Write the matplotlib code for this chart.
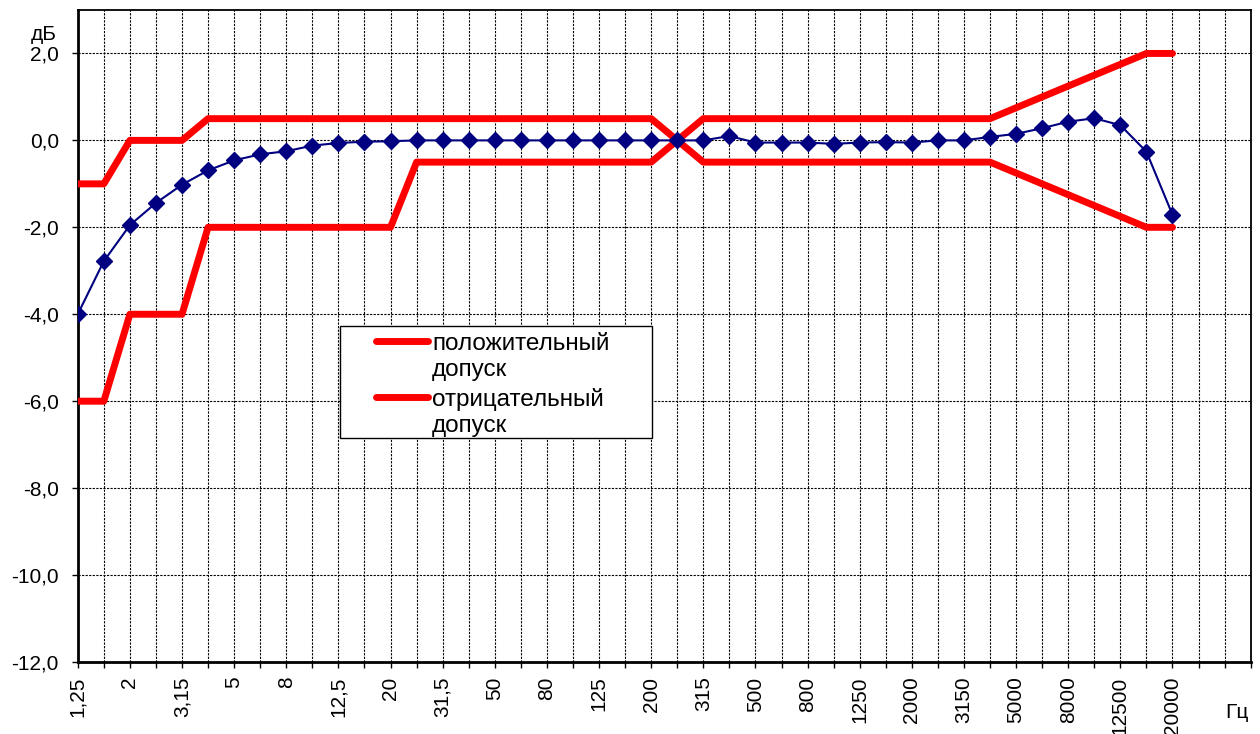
from matplotlib import pyplot as plt
from matplotlib.lines import Line2D
from matplotlib.patches import Rectangle
import numpy as np

plt.rcParams['font.family'] = ['Liberation Sans', 'DejaVu Sans']

# 1/3-octave centre frequencies, Hz
freq_labels = ['1,25', '1,6', '2', '2,5', '3,15', '4', '5', '6,3', '8', '10',
               '12,5', '16', '20', '25', '31,5', '40', '50', '63', '80', '100',
               '125', '160', '200', '250', '315', '400', '500', '630', '800', '1000',
               '1250', '1600', '2000', '2500', '3150', '4000', '5000', '6300', '8000', '10000',
               '12500', '16000', '20000']

# measured response, dB
response = [-4.0, -2.78, -1.95, -1.44, -1.02, -0.69, -0.46, -0.32, -0.25, -0.12,
            -0.06, -0.03, -0.02, 0.0, 0.0, 0.0, 0.0, 0.0, 0.0, 0.0,
            0.0, 0.0, 0.0, 0.0, 0.0, 0.1, -0.05, -0.05, -0.05, -0.08,
            -0.05, -0.04, -0.05, 0.0, 0.0, 0.08, 0.15, 0.28, 0.43, 0.51,
            0.35, -0.26, -1.71]

# tolerance limits, dB
upper_tol = [-1.0, -1.0, 0.0, 0.0, 0.0, 0.5, 0.5, 0.5, 0.5, 0.5,
             0.5, 0.5, 0.5, 0.5, 0.5, 0.5, 0.5, 0.5, 0.5, 0.5,
             0.5, 0.5, 0.5, 0.0, 0.5, 0.5, 0.5, 0.5, 0.5, 0.5,
             0.5, 0.5, 0.5, 0.5, 0.5, 0.5, 0.75, 1.0, 1.25, 1.5,
             1.75, 2.0, 2.0]
lower_tol = [-6.0, -6.0, -4.0, -4.0, -4.0, -2.0, -2.0, -2.0, -2.0, -2.0,
             -2.0, -2.0, -2.0, -0.5, -0.5, -0.5, -0.5, -0.5, -0.5, -0.5,
             -0.5, -0.5, -0.5, 0.0, -0.5, -0.5, -0.5, -0.5, -0.5, -0.5,
             -0.5, -0.5, -0.5, -0.5, -0.5, -0.5, -0.75, -1.0, -1.25, -1.5,
             -1.75, -2.0, -2.0]

legend_labels = ['положительный\nдопуск', 'отрицательный\nдопуск']

y_ticks = [-12, -10, -8, -6, -4, -2, 0, 2]
y_labels = ['-12,0', '-10,0', '-8,0', '-6,0', '-4,0', '-2,0', '0,0', '2,0']

n_extra = 3  # empty categories after 20000
x = np.arange(len(freq_labels))

W, H = 1260, 734
fig = plt.figure(figsize=(W / 100, H / 100), dpi=100)
ax = fig.add_axes([0.0617, 0.0981, 0.9309, 0.8883])

ax.plot(x, upper_tol, color='#ff0000', lw=5, solid_capstyle='round',
        solid_joinstyle='round', zorder=3)
ax.plot(x, lower_tol, color='#ff0000', lw=5, solid_capstyle='round',
        solid_joinstyle='round', zorder=3)
ax.plot(x, response, color='#000080', lw=1.5, marker='D', markersize=8,
        markerfacecolor='#000080', markeredgecolor='#000080', zorder=4)

ax.set_xlim(0, len(freq_labels) - 1 + n_extra)
ax.set_ylim(-12, 3)

all_x = np.arange(len(freq_labels) + n_extra)
ax.set_xticks(all_x)
xlab = [freq_labels[i] if (i < len(freq_labels) and i % 2 == 0) else '' for i in all_x]
ax.set_xticklabels(xlab, rotation=90, fontsize=15, va='top', ha='center')
ax.set_yticks(y_ticks)
ax.set_yticklabels(y_labels, fontsize=15)
ax.tick_params(axis='x', direction='out', length=4.5, width=1, pad=6)
ax.tick_params(axis='y', direction='out', length=4.5, width=1, pad=9)

ax.grid(True, color='black', linestyle=(0, (2, 1.2)), linewidth=0.8, zorder=1)
ax.set_axisbelow(True)

for side in ['left', 'bottom']:
    ax.spines[side].set_linewidth(2)
for side in ['top', 'right']:
    ax.spines[side].set_linewidth(1.3)

fig.text(57 / W, 1 - 35 / H, 'дБ', fontsize=15, ha='right', va='center')
fig.text(1237 / W, 1 - 712 / H, 'Гц', fontsize=15, ha='center', va='center')

# legend box drawn by hand: handle sits on the first text line, as in Excel
fig.add_artist(Rectangle((340 / W, 1 - 438 / H), 312 / W, 112 / H,
                         transform=fig.transFigure, facecolor='white',
                         edgecolor='black', lw=1, zorder=5))
for k, lab in enumerate(legend_labels):
    y_line = 341 + 56 * k
    fig.add_artist(Line2D([376 / W, 428 / W], [1 - y_line / H] * 2,
                          transform=fig.transFigure, color='#ff0000', lw=5,
                          solid_capstyle='round', zorder=6))
    for j, part in enumerate(lab.split('\n')):
        fig.text(432 / W, 1 - (350 + 56 * k + 26 * j) / H, part, fontsize=17.5,
                 ha='left', va='baseline', zorder=6)

plt.savefig('out.png', dpi=100)
